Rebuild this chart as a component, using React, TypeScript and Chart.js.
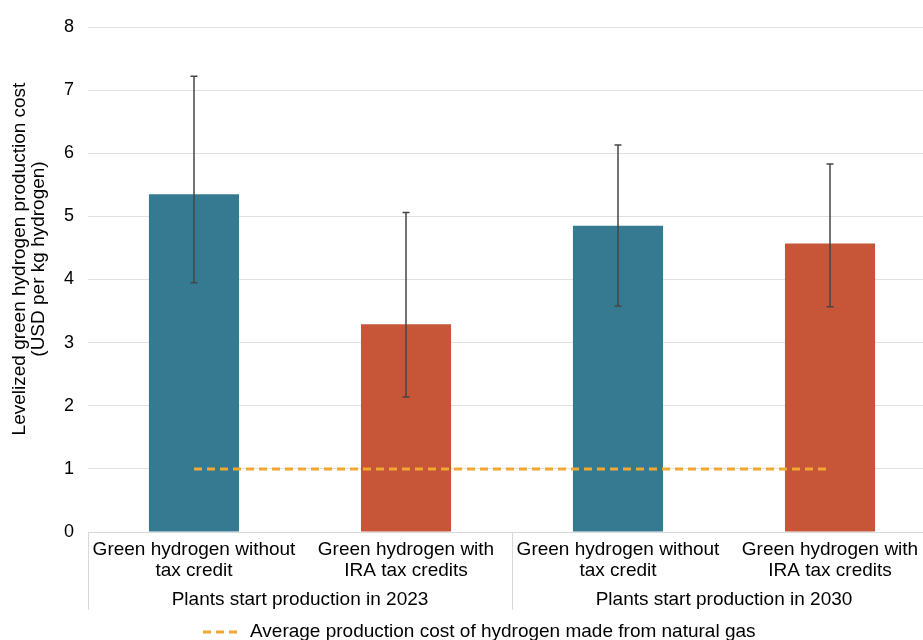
import React, { useEffect, useRef } from "react";
import { Chart, registerables } from "chart.js";

Chart.register(...registerables);

const categories: string[][] = [
  ["Green hydrogen without", "tax credit"],
  ["Green hydrogen with", "IRA tax credits"],
  ["Green hydrogen without", "tax credit"],
  ["Green hydrogen with", "IRA tax credits"],
];
const groups = ["Plants start production in 2023", "Plants start production in 2030"];
const costValues = [5.35, 3.29, 4.85, 4.57];
const errLow = [3.95, 2.14, 3.58, 3.57];
const errHigh = [7.22, 5.06, 6.13, 5.83];
const naturalGasCost = [1, 1, 1, 1];
const barColors = ["#367A91", "#C75537", "#367A91", "#C75537"];
const lineLabel = "Average production cost of hydrogen made from natural gas";
const yTitle = ["Levelized green hydrogen production cost", "(USD per kg hydrogen)"];

const FONT = '"Liberation Sans", Arial, Helvetica, sans-serif';

const overlay = {
  id: "overlay",
  afterDatasetsDraw(chart: any) {
    const ctx = chart.ctx;
    const x = chart.scales.x;
    const y = chart.scales.y;
    ctx.save();
    ctx.strokeStyle = "#454545";
    ctx.lineWidth = 1.5;
    for (let i = 0; i < costValues.length; i++) {
      const cx = Math.round(x.getPixelForValue(i));
      const yl = y.getPixelForValue(errLow[i]);
      const yh = y.getPixelForValue(errHigh[i]);
      ctx.beginPath();
      ctx.moveTo(cx, yl);
      ctx.lineTo(cx, yh);
      ctx.moveTo(cx - 3.5, yl);
      ctx.lineTo(cx + 3.5, yl);
      ctx.moveTo(cx - 3.5, yh);
      ctx.lineTo(cx + 3.5, yh);
      ctx.stroke();
    }
    ctx.restore();
  },
  afterDraw(chart: any) {
    const ctx = chart.ctx;
    const x = chart.scales.x;
    const area = chart.chartArea;
    const bottom = area.bottom;
    ctx.save();
    // separators
    ctx.strokeStyle = "#d9d9d9";
    ctx.lineWidth = 1;
    const half = (x.getPixelForValue(1) - x.getPixelForValue(0)) / 2;
    const seps = [x.getPixelForValue(0) - half, x.getPixelForValue(1) + half, x.getPixelForValue(3) + half];
    seps.forEach((sx: number) => {
      const px = Math.round(sx) + 0.5;
      ctx.beginPath();
      ctx.moveTo(px, bottom);
      ctx.lineTo(px, bottom + 78);
      ctx.stroke();
    });
    // category labels
    ctx.fillStyle = "#000";
    ctx.font = `19px ${FONT}`;
    ctx.textAlign = "center";
    ctx.textBaseline = "middle";
    categories.forEach((lines, i) => {
      const cx = x.getPixelForValue(i);
      lines.forEach((l, j) => ctx.fillText(l, cx, bottom + 18 + j * 21));
    });
    groups.forEach((g, gi) => {
      const cx = (x.getPixelForValue(gi * 2) + x.getPixelForValue(gi * 2 + 1)) / 2;
      ctx.fillText(g, cx, bottom + 68);
    });
    // y title
    ctx.save();
    ctx.translate(20, 259);
    ctx.rotate(-Math.PI / 2);
    ctx.font = `19px ${FONT}`;
    ctx.fillText(yTitle[0], 0, 0);
    ctx.fillText(yTitle[1], 0, 19);
    ctx.restore();
    // legend
    ctx.strokeStyle = "#F0A830";
    ctx.lineWidth = 3;
    ctx.setLineDash([8, 5]);
    ctx.beginPath();
    ctx.moveTo(203, 632);
    ctx.lineTo(241, 632);
    ctx.stroke();
    ctx.setLineDash([]);
    ctx.textAlign = "left";
    ctx.font = `19px ${FONT}`;
    ctx.fillText(lineLabel, 250, 632);
    ctx.restore();
  },
};

export default function App() {
  const ref = useRef<HTMLCanvasElement>(null);
  useEffect(() => {
    document.body.style.overflow = "hidden";
    const chart = new Chart(ref.current!, {
      type: "bar",
      data: {
        labels: categories.map((c) => c.join(" ")),
        datasets: [
          {
            type: "line",
            label: lineLabel,
            data: naturalGasCost,
            borderColor: "#F0A830",
            borderWidth: 3,
            borderDash: [8, 5],
            pointRadius: 0,
            fill: false,
            order: 0,
          } as any,
          {
            type: "bar",
            label: "Cost",
            data: costValues,
            backgroundColor: barColors,
            categoryPercentage: 1,
            barPercentage: 0.425,
            order: 1,
          },
        ],
      },
      options: {
        responsive: false,
        animation: false,
        layout: { padding: { left: 0, top: 27, right: 4, bottom: 0 } },
        plugins: { legend: { display: false }, tooltip: { enabled: false } },
        scales: {
          x: {
            ticks: { display: false },
            grid: { display: false },
            border: { display: true, color: "#d9d9d9" },
            afterFit: (s: any) => {
              s.height = 108;
            },
          },
          y: {
            min: 0,
            max: 8,
            ticks: { stepSize: 1, color: "#000", font: { size: 18, family: FONT }, padding: 14 },
            grid: { color: "#e0e0e0", drawTicks: false },
            border: { display: false },
            afterFit: (s: any) => {
              s.width = 88;
            },
          },
        },
      },
      plugins: [overlay],
    });
    return () => chart.destroy();
  }, []);
  return (
    <div style={{ position: "absolute", left: 0, top: 0, width: 940, height: 640 }}>
      <canvas ref={ref} width={940} height={640} />
    </div>
  );
}
